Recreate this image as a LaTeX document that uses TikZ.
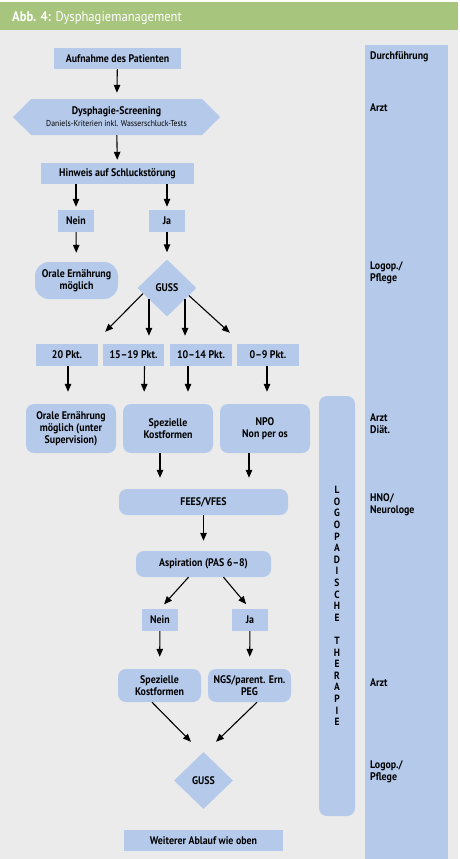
\documentclass[tikz,border=0pt]{standalone}
\usepackage{fontspec}
\setmainfont{PT Sans}[FakeStretch=0.9]
\usetikzlibrary{positioning,arrows.meta,shapes.geometric,shapes.symbols}

\definecolor{bggray}{RGB}{235,235,235}
\definecolor{hgreen}{RGB}{167,197,125}
\definecolor{fblue}{RGB}{181,202,234}

\tikzset{
  box/.style={fill=fblue, inner sep=1pt, align=center,
    font=\bfseries\fontsize{11}{11.8}\selectfont},
  rbox/.style={box, rounded corners=8pt},
  gussbox/.style={box, diamond, minimum width=59pt, minimum height=57pt},
  screenbox/.style={box, signal, signal to=west and east,
    minimum width=207pt, minimum height=36pt},
  role/.style={anchor=west, align=left, inner sep=0pt,
    font=\bfseries\fontsize{11}{12}\selectfont},
  arr/.style={-{Triangle[length=8pt,width=6.5pt]}, line width=1.1pt}
}

\begin{document}
\begin{tikzpicture}[x=1pt,y=-1pt]

\useasboundingbox (0,0) rectangle (460,859);
\fill[white] (0,0) rectangle (460,859);
\fill[bggray] (0,2) rectangle (458,859);
\fill[hgreen] (0,2) rectangle (458,30);
\node[anchor=base west, inner sep=0pt, text=white,
  font=\fontsize{14}{16}\selectfont] (title) at (12,21.5)
  {\textbf{Abb. 4:} Dysphagiemanagement};

% Durchfuehrung
\fill[fblue] (365,45) rectangle (448,859);
\node[role] (r1) at (370,57) {Durchführung};
\node[role] (r2) at (370,108) {Arzt};
\node[role] (r3) at (370,273) {Logop./\\Pflege};
\node[role] (r4) at (370,423.5) {Arzt\\Diät.};
\node[role] (r5) at (370,504.5) {HNO/\\Neurologe};
\node[role] (r6) at (370,683) {Arzt};
\node[role] (r7) at (370,772) {Logop./\\Pflege};

\node[fill=fblue, rounded corners=8pt, minimum width=36pt, minimum height=420pt,
  align=center, font=\bfseries\fontsize{10.5}{11.6}\selectfont] (ther) at (337,606)
  {L\\O\\G\\O\\P\\A\\D\\I\\S\\C\\H\\E\\ \\T\\H\\E\\R\\A\\P\\I\\E};

% Screening
\node[box, minimum width=127pt, minimum height=21pt] (aufn) at (117.5,58.5) {Aufnahme des Patienten};
\node[screenbox] (screen) at (116.5,117)
  {Dysphagie-Screening\\{\mdseries\fontsize{8.6}{11.5}\selectfont Daniels-Kriterien inkl. Wasserschluck-Tests}};
\node[box, minimum width=153pt, minimum height=21pt] (hinw) at (117.5,173.5) {Hinweis auf Schluckstörung};
\node[box, minimum width=36pt, minimum height=22pt] (nein1) at (76,221) {Nein};
\node[box, minimum width=36pt, minimum height=22pt] (ja1) at (167,221) {Ja};
\node[rbox, rounded corners=14pt, minimum width=83pt, minimum height=37pt] (oral1) at (76.5,280.5) {Orale Ernährung\\möglich};
\node[gussbox] (guss1) at (167,288) {GUSS};

% GUSS-Punkte
\node[box, minimum width=62pt, minimum height=22pt] (p20) at (67,355) {20 Pkt.};
\node[box, minimum width=61pt, minimum height=22pt] (p1519) at (133.5,355) {15--19 Pkt.};
\node[box, minimum width=62pt, minimum height=22pt] (p1014) at (201,355) {10--14 Pkt.};
\node[box, minimum width=62pt, minimum height=22pt] (p09) at (268,355) {0--9 Pkt.};
\node[rbox, minimum width=90pt, minimum height=49pt] (oral2) at (71,428.5) {Orale Ernährung\\möglich (unter\\Supervision)};
\node[rbox, minimum width=90pt, minimum height=49pt] (spez1) at (168,428.5) {Spezielle\\Kostformen};
\node[rbox, minimum width=90pt, minimum height=49pt] (npo) at (265,428.5) {NPO\\Non per os};

% Apparative Diagnostik
\node[rbox, minimum width=169pt, minimum height=26pt] (fees) at (203.5,502) {FEES/VFES};
\node[rbox, minimum width=135pt, minimum height=26pt] (asp) at (203.5,564) {Aspiration (PAS 6--8)};
\node[box, minimum width=36pt, minimum height=22pt] (nein2) at (160,620) {Nein};
\node[box, minimum width=36pt, minimum height=22pt] (ja2) at (250,620) {Ja};
\node[rbox, minimum width=83pt, minimum height=33pt] (spez2) at (159.5,685.5) {Spezielle\\Kostformen};
\node[rbox, minimum width=83pt, minimum height=33pt] (ngs) at (249.5,685.5) {NGS/parent. Ern.\\PEG};
\node[gussbox] (guss2) at (203.5,780.5) {GUSS};
\node[box, minimum width=159pt, minimum height=21pt] (weiter) at (203.5,840.5) {Weiterer Ablauf wie oben};

\draw[arr, shorten >=6pt] (aufn) -- (screen);
\draw[arr, shorten >=3pt] (screen) -- (hinw);
\draw[arr, shorten >=3pt] (nein1 |- hinw.south) -- (nein1.north);
\draw[arr, shorten >=3pt] (ja1 |- hinw.south) -- (ja1.north);
\draw[arr, shorten >=9pt] (nein1) -- (oral1);
\draw[arr, shorten >=7pt] (ja1) -- (guss1);

\draw[arr] (guss1.193) -- ([xshift=7pt,yshift=12pt]p20.north east);
\draw[arr, shorten >=8pt] (guss1.212) -- (guss1.212 |- p1519.north);
\draw[arr, shorten >=8pt] (guss1.328) -- (guss1.328 |- p1014.north);
\draw[arr] (guss1.341) -- ([xshift=-7pt,yshift=11pt]p09.north west);

\draw[arr, shorten >=12pt] ([xshift=1pt]p20.south) -- ([xshift=1pt]p20.south |- oral2.north);
\draw[arr, shorten >=12pt] ([xshift=11pt]p1519.south) -- ([xshift=-24pt]spez1.north);
\draw[arr, shorten >=12pt] ([xshift=-13pt]p1014.south) -- ([xshift=20pt]spez1.north);
\draw[arr, shorten >=12pt] ([xshift=-1pt]p09.south) -- ([xshift=-1pt]p09.south |- npo.north);

\draw[arr, shorten >=11pt] ([xshift=-8pt]spez1.south) -- ([xshift=-8pt]spez1.south |- fees.north);
\draw[arr, shorten >=11pt] ([xshift=-16pt]npo.south) -- ([xshift=-16pt]npo.south |- fees.north);
\draw[arr, shorten >=10pt] (fees) -- (asp);
\draw[arr, shorten >=6pt] ([xshift=-15pt]asp.south) -- (nein2.north);
\draw[arr, shorten >=6pt] ([xshift=20pt]asp.south) -- (ja2.north);
\draw[arr, shorten >=12pt] (nein2) -- (spez2);
\draw[arr, shorten >=12pt] (ja2) -- (ngs);
\draw[arr] ([xshift=-7.5pt]spez2.south) -- ([xshift=-12.5pt,yshift=10pt]guss2.north);
\draw[arr] ([xshift=7.5pt]ngs.south) -- ([xshift=12.5pt,yshift=10pt]guss2.north);

\end{tikzpicture}
\end{document}
